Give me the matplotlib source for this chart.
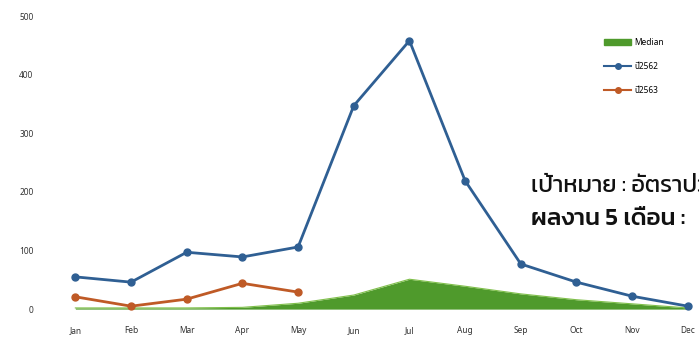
import matplotlib
matplotlib.use("Agg")
import matplotlib.pyplot as plt
from matplotlib.patches import Patch
from matplotlib.lines import Line2D

months = ["Jan", "Feb", "Mar", "Apr", "May", "Jun", "Jul", "Aug", "Sep", "Oct", "Nov", "Dec"]
median = [2, 2, 2, 3, 10, 24, 51, 39, 26, 16, 9, 2]
y2562 = [55, 46, 97, 89, 106, 347, 458, 219, 77, 46, 22, 5]
y2563 = [21, 5, 17, 44, 29]
yticks = [0, 100, 200, 300, 400, 500]

plt.rcParams["font.family"] = ["Noto Sans Thai", "DejaVu Sans"]

fig = plt.figure(figsize=(6.99, 3.40), dpi=100)
ax = fig.add_axes([0.06, 0.065, 0.94, 0.905])

x = list(range(len(months)))
green = "#4f9a2c"
blue = "#2f5f93"
orange = "#bf5a26"

ax.fill_between(x, 0, median, color=green, lw=0, zorder=1)
ax.plot(x, median, color="#7fbf4a", lw=0.8, zorder=1)
ax.plot(x, y2562, color=blue, lw=2, marker="o", ms=5, zorder=3)
ax.plot(x[:len(y2563)], y2563, color=orange, lw=2, marker="o", ms=5, zorder=3)

ax.set_xlim(-0.6, 11.2)
ax.set_ylim(-15, 510)
ax.set_xticks(x)
ax.set_xticklabels(months)
ax.set_yticks(yticks)
ax.tick_params(length=0, labelsize=6, colors="#333333", pad=6)
for s in ax.spines.values():
    s.set_visible(False)

handles = [
    Patch(color=green, label="Median"),
    Line2D([], [], color=blue, lw=1.5, marker="o", ms=4, label="ปี2562"),
    Line2D([], [], color=orange, lw=1.5, marker="o", ms=4, label="ปี2563"),
]
ax.legend(handles=handles, loc="upper right", bbox_to_anchor=(0.958, 0.935),
          frameon=False, fontsize=6, handlelength=3.2, handletextpad=0.4,
          labelspacing=1.8)

thai_font = ["Kanit", "Noto Sans Thai", "DejaVu Sans"]
fig.text(0.76, 0.435, "เป้าหมาย : อัตราป่วย", fontsize=17, color="#111111",
         fontweight="normal", va="baseline", family=thai_font)
fig.text(0.76, 0.338, "ผลงาน 5 เดือน : ", fontsize=17.5, color="#111111",
         fontweight="medium", va="baseline", family=thai_font)

fig.savefig("out.png", dpi=100)
